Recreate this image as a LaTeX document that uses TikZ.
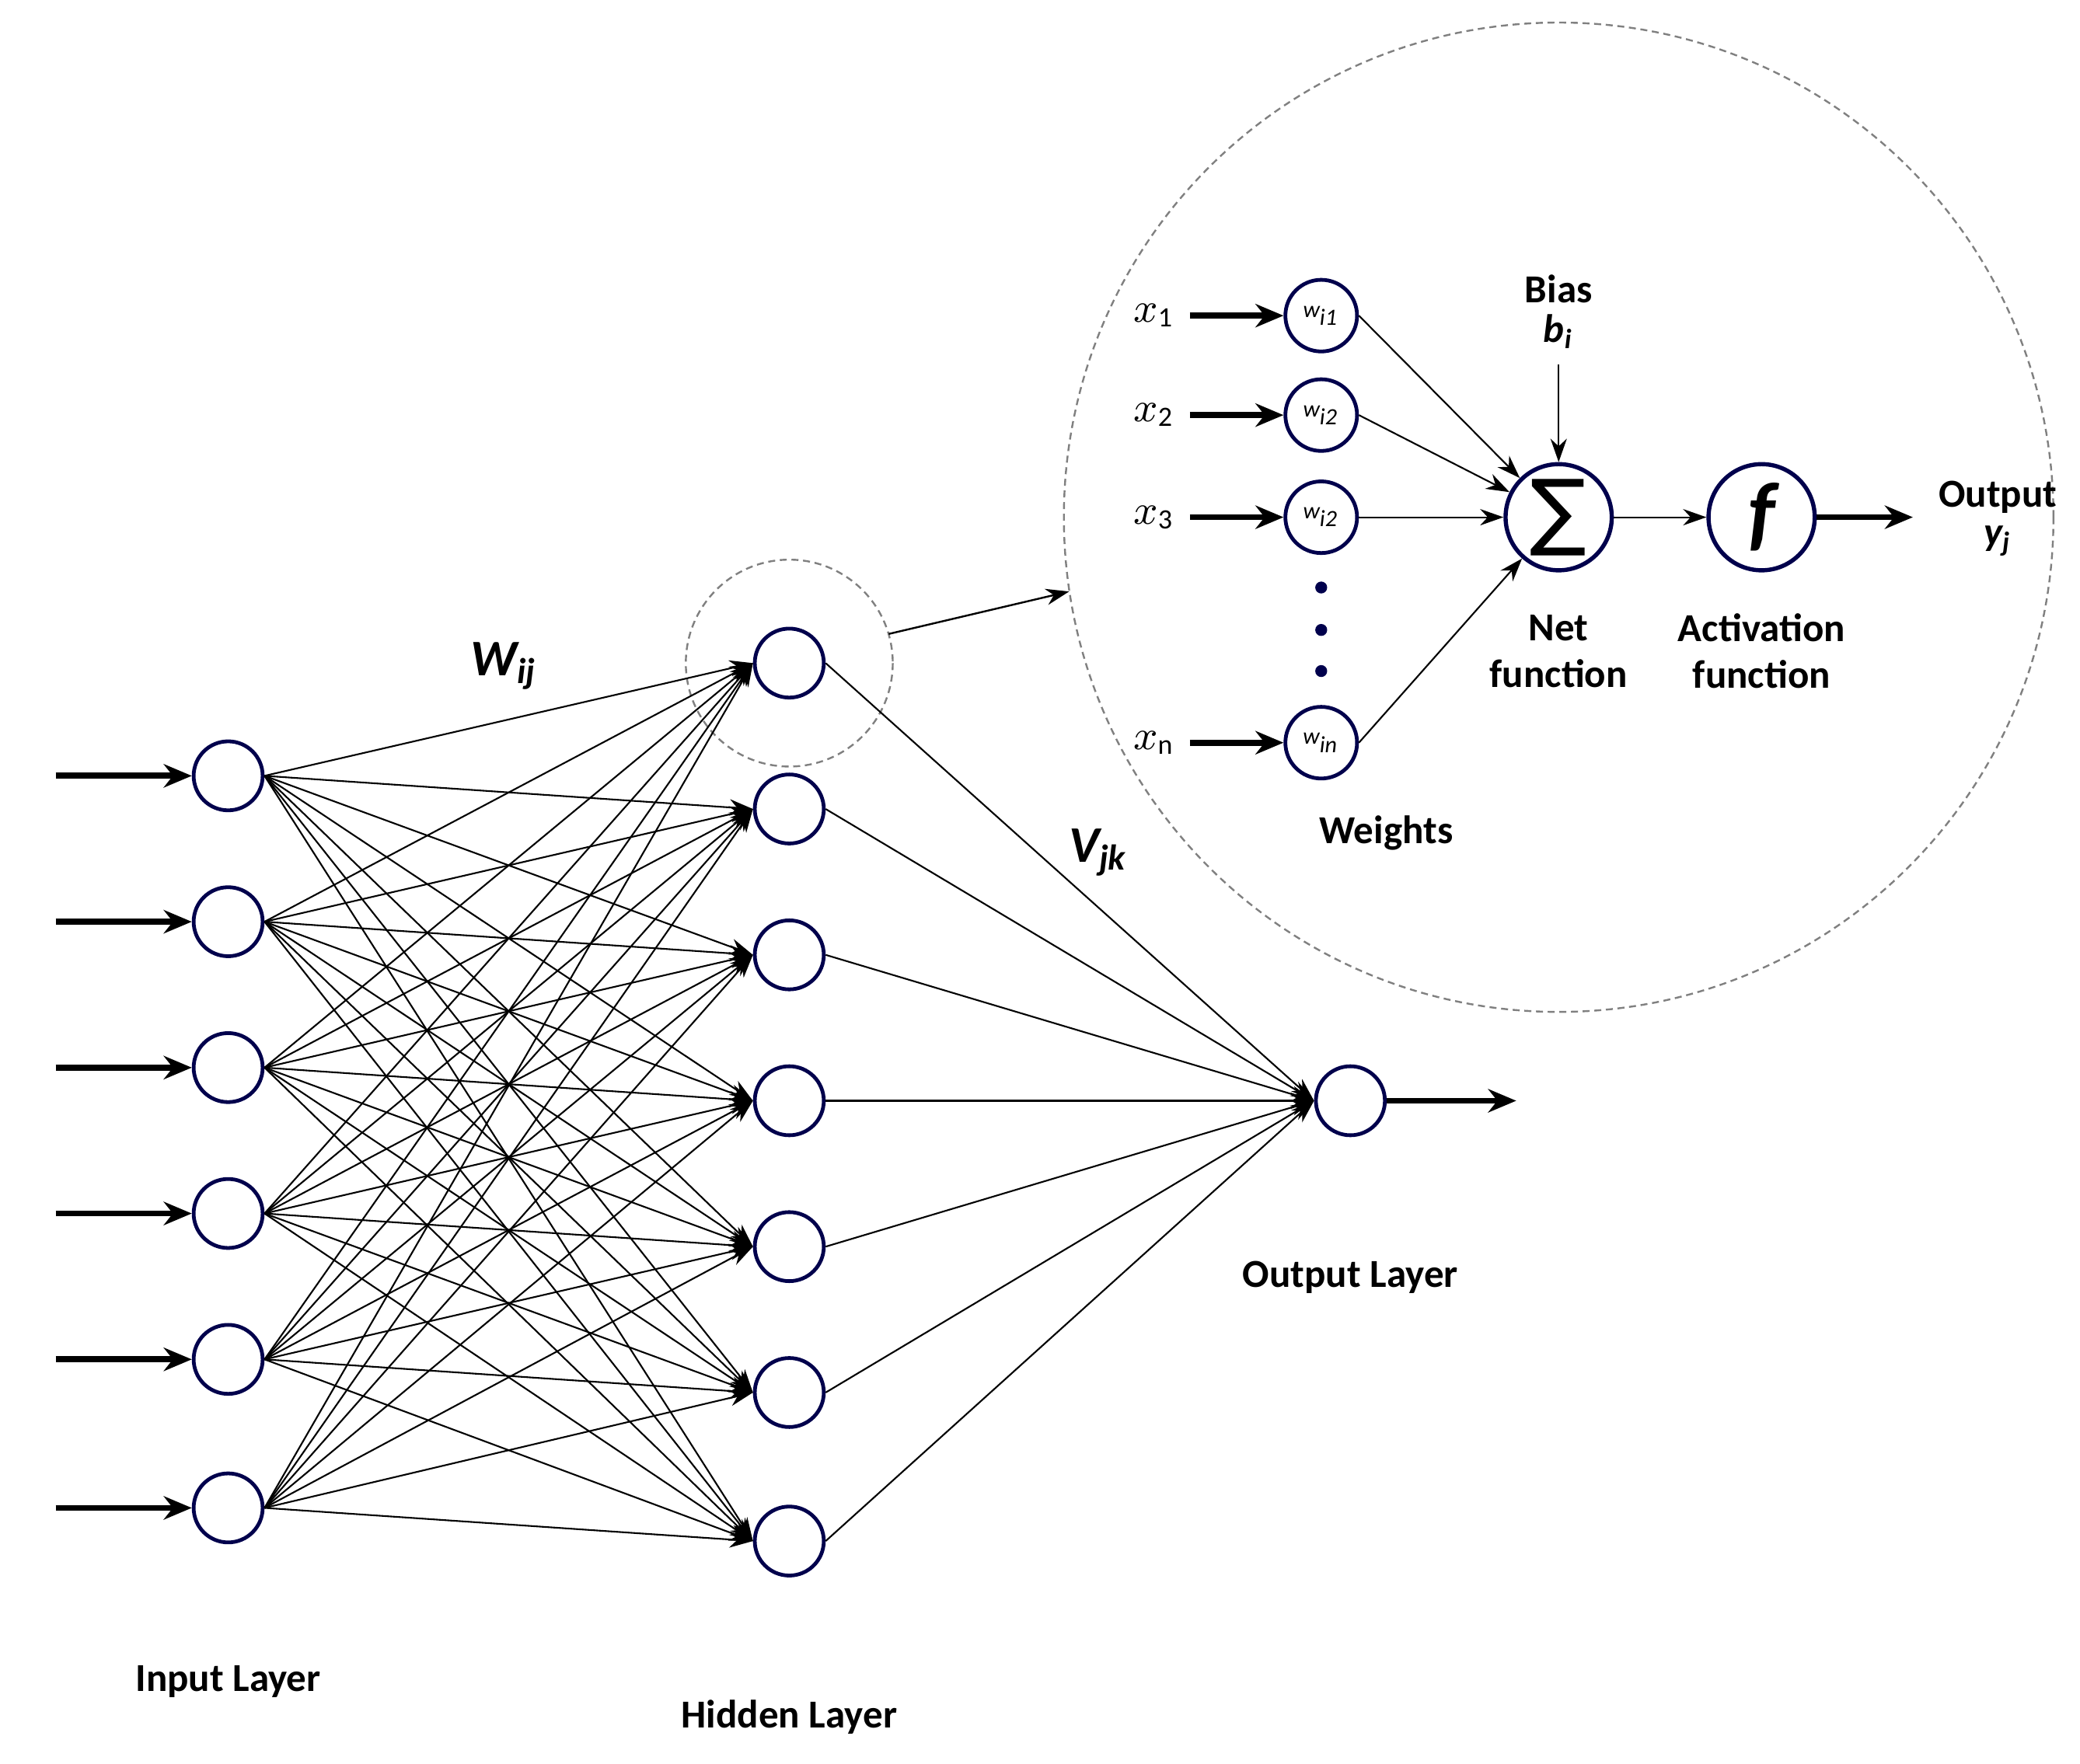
\documentclass[tikz,border=0pt]{standalone}
\usepackage{fontspec}
\setmainfont{Carlito}
\newfontfamily\sigfont{DejaVu Sans}
\usetikzlibrary{arrows.meta}
\begin{document}
\begin{tikzpicture}[x=0.01cm,y=-0.01cm,
  neu/.style={circle,draw=blue!30!black,line width=0.8pt,minimum size=0.52cm,inner sep=0pt,fill=white},
  big/.style={circle,draw=blue!30!black,line width=0.9pt,minimum size=0.8cm,inner sep=0pt,fill=white},
  wn/.style={circle,draw=blue!30!black,line width=0.8pt,minimum size=0.54cm,inner sep=0pt,fill=white,font=\fontsize{5}{6}\selectfont\itshape},
  conn/.style={line width=0.35pt,-{Stealth[length=5pt,width=3.5pt]}},
  thick arr/.style={line width=1.3pt,-{Stealth[length=6pt,width=5pt]}},
  lab/.style={font=\fontsize{8.5}{10}\selectfont\bfseries,align=center},
  dashc/.style={draw=gray,dash pattern=on 1.5pt off 1pt,line width=0.4pt}]
\useasboundingbox (0,0) rectangle (1568,1330);
% inset circles
\draw[dashc] (1175,390) circle (373);
\draw[dashc] (595,500) circle (78);
\foreach \i/\y in {1/585,2/695,3/805,4/915,5/1025,6/1137}{
  \node[neu] (i\i) at (172,\y) {};
  \coordinate (s\i) at (42,\y);
  \draw[thick arr] (s\i) -- (i\i);
}
\foreach \j/\y in {1/500,2/610,3/720,4/830,5/940,6/1050,7/1162}{
  \node[neu] (h\j) at (595,\y) {};
}
\node[neu] (o) at (1018,830) {};
\coordinate (oe) at (1143,830);
\draw[thick arr] (o) -- (oe);
\foreach \i in {1,...,6}{\foreach \j in {1,...,7}{\draw[conn] (i\i.east) -- (h\j.west);}}
\foreach \j in {1,...,7}{\draw[conn] (h\j.east) -- (o.west);}
\coordinate (za) at (670,478); \coordinate (zb) at (806,446);
\draw[line width=0.4pt,-{Stealth[length=5pt,width=3.5pt]}] (za) -- (zb);
\node[font=\fontsize{11}{12}\selectfont\bfseries\itshape] (wij) at (380,502) {W\textsubscript{ij}};
\node[font=\fontsize{11}{12}\selectfont\bfseries\itshape] (vjk) at (828,643) {V\textsubscript{jk}};
\node[lab] (il) at (172,1268) {Input Layer};
\node[lab] (hl) at (595,1295) {Hidden Layer};
\node[lab] (ol) at (1018,963) {Output Layer};
% inset
\node[big] (sum) at (1175,390) {\fontsize{18}{18}\selectfont\sigfont ∑};
\node[big] (f) at (1328,390) {\fontsize{18}{18}\selectfont\bfseries\itshape f};
\foreach \k/\y/\s/\w in {1/238/1/i1,2/313/2/i2,3/390/3/i2,4/560/n/in}{
  \node[font=\fontsize{9}{10}\selectfont] (x\k) at (870,\y) {$x_{\mathrm{\s}}$};
  \node[wn] (w\k) at (996,\y) {w\textsubscript{\w}};
  \coordinate (xa\k) at (897,\y);
  \draw[thick arr] (xa\k) -- (w\k);
  \draw[conn] (w\k.east) -- (sum);
}
\foreach \y in {443,475,506}{\fill[blue!30!black] (996,\y) circle (4.5);}
\node[lab] (bias) at (1175,218) {Bias};
\node[lab] (bi) at (1175,250) {\itshape b\textsubscript{i}};
\coordinate (bs) at (1175,275);
\draw[conn] (bs) -- (sum);
\draw[conn] (sum) -- (f);
\coordinate (ye) at (1442,390);
\draw[thick arr] (f) -- (ye);
\node[lab] (out) at (1506,375) {Output};
\node[lab] (yj) at (1506,408) {\itshape y\textsubscript{j}};
\node[lab] (nf) at (1175,491) {Net\\function};
\node[lab] (af) at (1328,491) {Activation\\function};
\node[lab] (wt) at (1045,628) {Weights};
\end{tikzpicture}
\end{document}
